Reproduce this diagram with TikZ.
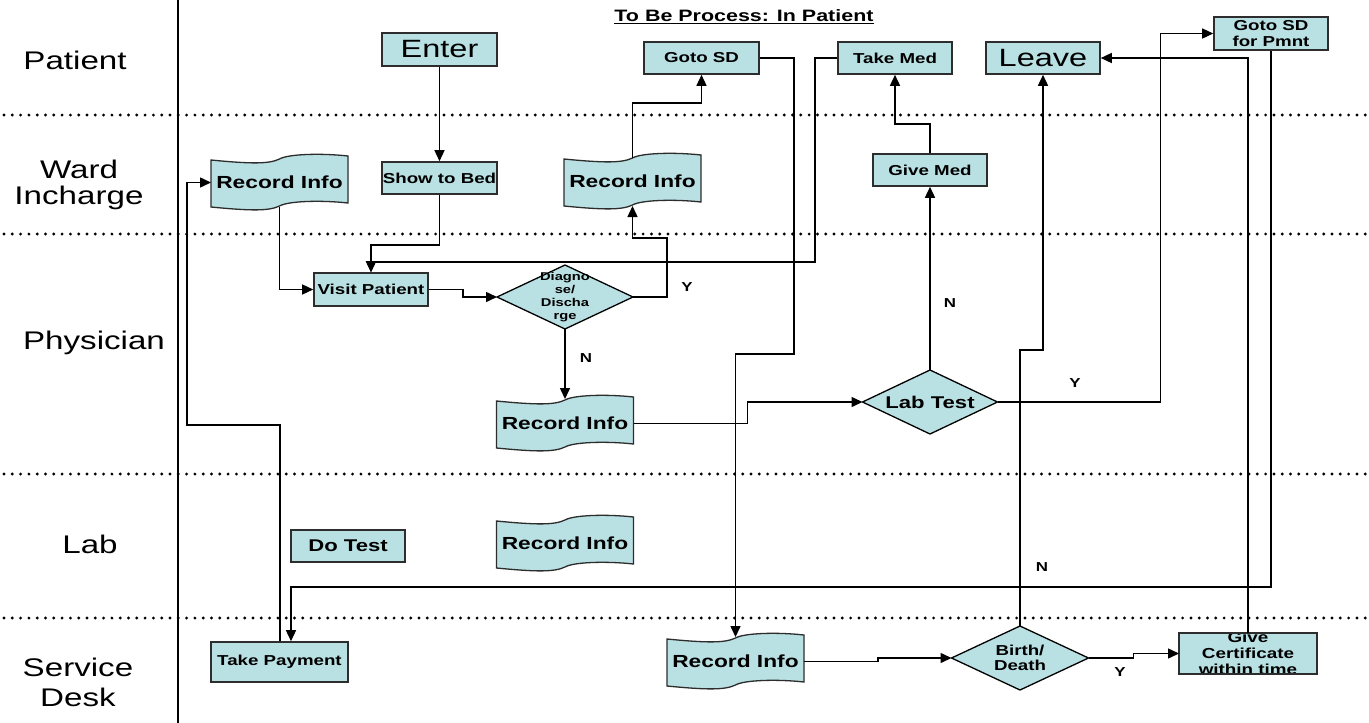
\documentclass[tikz,border=0pt]{standalone}
\usepackage{fontspec}
\setmainfont[FakeStretch=1.3]{Liberation Sans}
\usetikzlibrary{arrows.meta,calc}
\definecolor{boxfill}{RGB}{185,224,227}
\definecolor{boxline}{RGB}{45,45,45}
\newcommand\wavebox[3]{%
  \node[ghost, minimum width=137pt, minimum height=57pt] (#1) at (#2) {};
  \filldraw[wave, shift={(#1.north west)}] (0,6) .. controls (41,10) and (58,10) .. (68.5,5) .. controls (77,0) and (110,-1) .. (137,2) -- (137,49) .. controls (110,46) and (77,47) .. (68.5,52) .. controls (58,57) and (41,57) .. (0,53) -- cycle;
  \node[wtext] at (#1) {#3};
}
\newcommand\diabox[6]{%
  \node[ghost, minimum width=#3pt, minimum height=#4pt] (#1) at (#2) {};
  \filldraw[dia] (#1.north) -- (#1.east) -- (#1.south) -- (#1.west) -- cycle;
  \node[align=center, inner sep=0, font=#5] at (#1) {#6};
}
\begin{document}
\begin{tikzpicture}[x=1pt,y=-1pt,
  lane/.style={font=\fontsize{25.5}{26}\selectfont, align=center, inner sep=0},
  box/.style={draw=boxline, fill=boxfill, line width=1.6pt, inner sep=0, font=\fontsize{14.4}{16}\selectfont\bfseries, align=center},
  big/.style={font=\fontsize{25}{26}\selectfont},
  ghost/.style={inner sep=0, outer sep=0, draw=none},
  wave/.style={draw=boxline, fill=boxfill, line width=1.3pt},
  dia/.style={draw=black, fill=boxfill, line width=1.3pt},
  wtext/.style={font=\fontsize{17.5}{18}\selectfont\bfseries, inner sep=0},
  arr/.style={line width=1.5pt, -{Triangle[length=11pt,width=10pt]}},
  yn/.style={font=\fontsize{13}{14}\selectfont\bfseries, inner sep=0},
  sep/.style={line width=3.2pt, dash pattern=on 0pt off 8.3pt, line cap=round},
]
\useasboundingbox (0,0) rectangle (1369,723);
\fill[white] (0,0) rectangle (1369,723);

% lanes
\draw[line width=1.3pt] (178,0) -- (178,723);
\draw[sep] (4,115) -- (1369,115);
\draw[sep] (4,234) -- (1369,234);
\draw[sep] (4,474) -- (1369,474);
\draw[sep] (4,618) -- (1369,618);

\node[lane] (lpat) at (75,60) {Patient};
\node[lane, font=\fontsize{25.5}{26}\selectfont] (lward) at (79,185) {Ward\\Incharge};
\node[lane] (lphy) at (94,343) {Physician};
\node[lane] (llab) at (90,544) {Lab};
\node[lane, font=\fontsize{25.5}{30}\selectfont] (lsd) at (78,682) {Service\\Desk};

\node[font=\fontsize{16.5}{18}\selectfont\bfseries, inner sep=0] (title) at (744,17) {\underline{To Be Process: In Patient}};

% boxes
\node[box, big, minimum width=115pt, minimum height=33pt] (enter) at (439.5,49.5) {Enter};
\node[box, minimum width=115pt, minimum height=32pt] (showbed) at (439.5,178) {Show to Bed};
\node[box, minimum width=115pt, minimum height=32pt] (gotosd) at (701.5,58) {Goto SD};
\node[box, minimum width=114pt, minimum height=32pt] (takemed) at (895,58) {Take Med};
\node[box, big, minimum width=114pt, minimum height=32pt] (leave) at (1043,58) {Leave};
\node[box, minimum width=114pt, minimum height=33pt] (gotopmnt) at (1271,33.5) {Goto SD\\for Pmnt};
\node[box, minimum width=114pt, minimum height=32pt] (givemed) at (930,170) {Give Med};
\node[box, minimum width=114pt, minimum height=33pt] (visit) at (371,289.5) {Visit Patient};
\node[box, font=\fontsize{17}{18}\selectfont\bfseries, minimum width=114pt, minimum height=32pt] (dotest) at (348,546) {Do Test};
\node[box, minimum width=137pt, minimum height=40pt] (takepay) at (279.5,662) {Take Payment};
\node[box, draw=none, outer sep=0, minimum width=138pt, minimum height=41pt] (givecert) at (1248,653.5) {};
\begin{scope}
  \clip (givecert.south west) rectangle (givecert.north east);
  \node[font=\fontsize{14.5}{16}\selectfont\bfseries, align=center, inner sep=0] (givecerttext) at (givecert) {Give\\Certificate\\within time};
\end{scope}
\draw[draw=boxline, line width=1.6pt] (givecert.south west) rectangle (givecert.north east);

% wave shapes
\wavebox{rec1}{279.5,182.5}{Record Info}
\wavebox{rec2}{632.5,181.5}{Record Info}
\wavebox{rec3}{565,423.5}{Record Info}
\wavebox{rec4}{565,543.5}{Record Info}
\wavebox{rec5}{735.5,661.5}{Record Info}

% diamonds
\diabox{diag}{565,297}{136}{64}{\fontsize{11.3}{13}\selectfont\bfseries}{Diagno\\se/\\Discha\\rge}
\diabox{labtest}{930,402}{135}{64}{\fontsize{17}{18}\selectfont\bfseries}{Lab Test}
\diabox{birth}{1020,658}{137}{64}{\fontsize{14.4}{15}\selectfont\bfseries}{Birth/\\Death}

% connectors
\draw[arr] (enter) -- (showbed);
\draw[arr] (showbed.south) -- ++(0,50) -| (visit.north);
\draw[arr] (takemed.west) -- ++(-22,0) -- ++(0,204) -| (visit.north);
\draw[arr] ([yshift=4pt]rec1.south) |- (visit.west);
\draw[arr] (visit.east) -- ++(34,0) |- (diag.west);
\draw[arr] (diag.east) -- ++(34,0) -- ++(0,-59) -| ([yshift=4pt]rec2.south);
\draw[arr] ([yshift=-5pt]rec2.north) -- ++(0,-55) -| (gotosd.south);
\draw[arr] (gotosd.east) -- ++(34,0) -- ++(0,296) -| ([yshift=-4pt]rec5.north);
\draw[arr] (diag.south) -- ([yshift=-4pt]rec3.north);
\draw[arr] (rec3.east) -- ++(114,0) |- (labtest.west);
\draw[arr] (labtest.north) -- (givemed.south);
\draw[arr] (givemed.north) -- ++(0,-29) -| (takemed.south);
\draw[arr] (labtest.east) -- ++(163,0) |- (gotopmnt.west);
\draw[arr] (gotopmnt.south) -- ++(0,536) -| ([xshift=11.5pt]takepay.north);
\draw[arr] ([xshift=0.5pt]takepay.north) -- ++(0,-216) -- ++(-93,0) |- (rec1.west);
\draw[arr] (rec5.east) -- ++(74,0) |- (birth.west);
\draw[arr] (birth.north) -- ++(0,-276) -| (leave.south);
\draw[arr] (birth.east) -- ++(45,0) |- (givecert.west);
\draw[arr] (givecert.north) |- (leave.east);

% labels
\node[yn] (y1) at (687,287) {Y};
\node[yn] (n1) at (586,358) {N};
\node[yn] (n2) at (950,303) {N};
\node[yn] (y2) at (1075,383) {Y};
\node[yn] (n3) at (1042,567) {N};
\node[yn] (y3) at (1120,672) {Y};
\end{tikzpicture}
\end{document}
